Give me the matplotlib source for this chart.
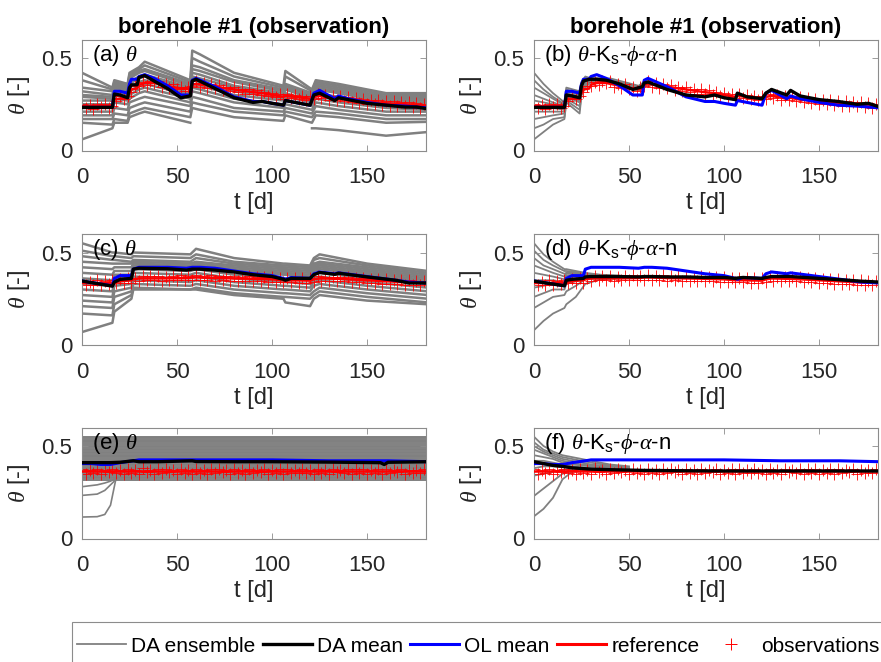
import numpy as np
import matplotlib
matplotlib.use('Agg')
import matplotlib.pyplot as plt
from matplotlib.lines import Line2D
from matplotlib.patches import Rectangle

plt.rcParams['font.family'] = ['Liberation Sans', 'DejaVu Sans']
plt.rcParams['mathtext.fontset'] = 'custom'
plt.rcParams['mathtext.rm'] = 'Liberation Sans'
plt.rcParams['mathtext.it'] = 'Liberation Serif:italic'
plt.rcParams['mathtext.bf'] = 'Liberation Sans:bold'

# ---- row 1 (top): means and reference ----
t1 = [0, 16, 17, 20, 24, 25, 26, 29, 30, 33, 38, 45, 52, 57, 58, 60, 70, 80, 90, 95,
      100, 106, 107, 112, 120, 122, 125, 133, 135, 140, 150, 160, 170, 176, 182]
ref1 = [0.24, 0.24, 0.275, 0.28, 0.285, 0.31, 0.33, 0.335, 0.355, 0.365, 0.365, 0.35,
        0.335, 0.33, 0.355, 0.36, 0.345, 0.33, 0.315, 0.31, 0.30, 0.29, 0.295, 0.29,
        0.28, 0.29, 0.295, 0.28, 0.285, 0.275, 0.265, 0.255, 0.25, 0.245, 0.24]
ol1 = [0.233, 0.233, 0.32, 0.32, 0.31, 0.36, 0.385, 0.385, 0.40, 0.41, 0.39, 0.35,
       0.30, 0.30, 0.38, 0.39, 0.345, 0.29, 0.265, 0.265, 0.255, 0.245, 0.27, 0.26,
       0.245, 0.31, 0.325, 0.28, 0.295, 0.28, 0.26, 0.245, 0.24, 0.235, 0.23]
da_a = [0.233, 0.233, 0.305, 0.30, 0.285, 0.34, 0.355, 0.355, 0.395, 0.405, 0.375, 0.335,
        0.285, 0.295, 0.375, 0.385, 0.335, 0.285, 0.26, 0.265, 0.255, 0.245, 0.27, 0.26,
        0.245, 0.30, 0.31, 0.27, 0.285, 0.275, 0.255, 0.245, 0.235, 0.235, 0.225]
da_b = [0.233, 0.233, 0.30, 0.295, 0.285, 0.35, 0.375, 0.385, 0.385, 0.385, 0.38, 0.36,
        0.33, 0.345, 0.365, 0.37, 0.33, 0.30, 0.29, 0.30, 0.285, 0.275, 0.31, 0.29,
        0.28, 0.31, 0.33, 0.30, 0.325, 0.295, 0.275, 0.265, 0.25, 0.255, 0.235]

# ---- row 2 ----
t2 = [0, 16, 17, 20, 26, 27, 30, 45, 55, 58, 62, 70, 80, 90, 100, 106, 107, 110, 120,
      122, 125, 133, 135, 150, 165, 172, 182]
ref2 = [0.335, 0.335, 0.34, 0.345, 0.35, 0.355, 0.36, 0.36, 0.362, 0.365, 0.365, 0.362,
        0.36, 0.358, 0.355, 0.35, 0.35, 0.35, 0.348, 0.355, 0.36, 0.358, 0.358, 0.35,
        0.342, 0.338, 0.335]
ol2 = [0.346, 0.32, 0.36, 0.375, 0.375, 0.41, 0.42, 0.42, 0.415, 0.42, 0.42, 0.415,
       0.40, 0.385, 0.375, 0.36, 0.355, 0.365, 0.36, 0.385, 0.395, 0.385, 0.39, 0.37,
       0.35, 0.34, 0.335]
da_c = [0.346, 0.318, 0.34, 0.355, 0.36, 0.41, 0.415, 0.412, 0.405, 0.41, 0.41, 0.405,
        0.395, 0.38, 0.37, 0.355, 0.35, 0.36, 0.36, 0.38, 0.392, 0.382, 0.388, 0.368,
        0.35, 0.335, 0.335]
da_d = [0.345, 0.32, 0.35, 0.355, 0.36, 0.368, 0.37, 0.37, 0.368, 0.37, 0.37, 0.368,
        0.368, 0.365, 0.365, 0.36, 0.362, 0.365, 0.36, 0.365, 0.37, 0.37, 0.37, 0.36,
        0.35, 0.345, 0.34]

# ---- row 3 ----
t3 = [0, 5, 10, 15, 20, 27, 30, 40, 58, 60, 80, 100, 130, 157, 159, 161, 182]
ref3 = [0.363] * 17
ol3 = [0.405, 0.405, 0.40, 0.40, 0.41, 0.42, 0.425, 0.425, 0.425, 0.425, 0.425, 0.425,
       0.42, 0.42, 0.42, 0.42, 0.415]
da_e = [0.41, 0.41, 0.41, 0.41, 0.412, 0.42, 0.415, 0.415, 0.42, 0.416, 0.415, 0.415,
        0.413, 0.41, 0.40, 0.412, 0.415]
da_f = [0.415, 0.405, 0.395, 0.39, 0.382, 0.377, 0.375, 0.372, 0.368, 0.368, 0.366,
        0.365, 0.365, 0.365, 0.365, 0.365, 0.365]

# ---- observations (every 2 days) ----
t_obs = np.arange(0, 181, 2)
obs1 = [0.252, 0.230, 0.246, 0.225, 0.254, 0.236, 0.249, 0.228, 0.243, 0.269,
        0.295, 0.276, 0.295, 0.317, 0.346, 0.349, 0.372, 0.352, 0.377, 0.363,
        0.374, 0.345, 0.359, 0.337, 0.357, 0.330, 0.342, 0.321, 0.343, 0.348,
        0.375, 0.345, 0.363, 0.339, 0.360, 0.338, 0.355, 0.326, 0.345, 0.322,
        0.342, 0.318, 0.333, 0.308, 0.331, 0.307, 0.326, 0.300, 0.318, 0.292,
        0.313, 0.289, 0.305, 0.279, 0.307, 0.283, 0.299, 0.276, 0.297, 0.272,
        0.292, 0.281, 0.306, 0.282, 0.302, 0.275, 0.294, 0.271, 0.296, 0.268,
        0.287, 0.262, 0.283, 0.258, 0.280, 0.254, 0.275, 0.250, 0.271, 0.246,
        0.268, 0.243, 0.265, 0.240, 0.263, 0.238, 0.260, 0.236, 0.257, 0.231,
        0.253]
obs2 = [0.347, 0.323, 0.341, 0.326, 0.350, 0.322, 0.344, 0.328, 0.349, 0.333,
        0.357, 0.334, 0.360, 0.337, 0.362, 0.346, 0.373, 0.349, 0.371, 0.350,
        0.374, 0.347, 0.370, 0.352, 0.375, 0.349, 0.377, 0.353, 0.373, 0.352,
        0.377, 0.354, 0.374, 0.350, 0.376, 0.348, 0.371, 0.349, 0.374, 0.347,
        0.372, 0.348, 0.370, 0.345, 0.371, 0.344, 0.369, 0.346, 0.368, 0.342,
        0.367, 0.341, 0.364, 0.338, 0.362, 0.339, 0.363, 0.337, 0.361, 0.336,
        0.360, 0.343, 0.371, 0.347, 0.370, 0.346, 0.369, 0.345, 0.368, 0.344,
        0.366, 0.341, 0.364, 0.338, 0.362, 0.337, 0.359, 0.334, 0.357, 0.332,
        0.355, 0.330, 0.353, 0.329, 0.351, 0.327, 0.349, 0.325, 0.348, 0.324,
        0.346]
obs3 = [0.375, 0.351, 0.370, 0.356, 0.378, 0.349, 0.372, 0.358, 0.377, 0.352,
        0.369, 0.348, 0.376, 0.355, 0.371, 0.350, 0.379, 0.357, 0.368, 0.347,
        0.374, 0.353, 0.377, 0.359, 0.370, 0.349, 0.375, 0.354, 0.372, 0.351,
        0.378, 0.356, 0.369, 0.348, 0.374, 0.352, 0.376, 0.357, 0.371, 0.350,
        0.377, 0.355, 0.370, 0.349, 0.375, 0.353, 0.372, 0.358, 0.378, 0.351,
        0.369, 0.354, 0.376, 0.349, 0.373, 0.356, 0.370, 0.352, 0.377, 0.355,
        0.371, 0.350, 0.378, 0.354, 0.372, 0.349, 0.376, 0.357, 0.370, 0.353,
        0.375, 0.348, 0.373, 0.356, 0.377, 0.351, 0.369, 0.355, 0.374, 0.350,
        0.378, 0.353, 0.371, 0.357, 0.376, 0.349, 0.372, 0.354, 0.370, 0.352,
        0.375]

# ---- ensembles ----
nan = np.nan
ens_a_t = [0, 16, 17, 24, 25, 30, 33, 57, 58, 62, 80, 106, 107, 121, 123, 135, 160, 182]
ens_a = [
    [0.42, 0.34, 0.38, 0.36, 0.42, 0.45, 0.48, 0.38, 0.54, 0.52, 0.42, 0.35, 0.43, 0.33, 0.38, 0.36, 0.31, 0.31],
    [0.38, 0.33, 0.37, 0.35, 0.41, 0.44, 0.46, 0.37, 0.50, 0.48, 0.40, 0.34, 0.40, 0.32, 0.37, 0.35, 0.30, 0.30],
    [0.34, 0.32, 0.36, 0.34, 0.40, 0.43, 0.44, 0.36, 0.46, 0.45, 0.38, 0.33, 0.36, 0.31, 0.36, 0.34, 0.29, 0.29],
    [0.32, 0.30, 0.35, 0.33, 0.39, 0.42, 0.43, 0.35, 0.44, 0.43, 0.37, 0.32, 0.35, 0.30, 0.35, 0.33, 0.28, 0.28],
    [0.30, 0.29, 0.34, 0.32, 0.37, 0.40, 0.41, 0.34, 0.42, 0.41, 0.35, 0.31, 0.34, 0.29, 0.34, 0.32, 0.27, 0.27],
    [0.29, 0.28, 0.33, 0.31, 0.36, 0.39, 0.40, 0.33, 0.40, 0.39, 0.34, 0.30, 0.33, 0.28, 0.33, 0.31, 0.26, 0.26],
    [0.27, 0.27, 0.31, 0.30, 0.34, 0.37, 0.38, 0.31, 0.38, 0.37, 0.32, 0.28, 0.31, 0.27, 0.31, 0.29, 0.25, 0.25],
    [0.25, 0.25, 0.30, 0.28, 0.32, 0.35, 0.36, 0.30, 0.36, 0.35, 0.30, 0.27, 0.29, 0.26, 0.30, 0.28, 0.24, 0.24],
    [0.23, 0.23, 0.28, 0.27, 0.30, 0.33, 0.34, 0.28, 0.34, 0.33, 0.28, 0.25, 0.27, 0.24, 0.28, 0.26, 0.23, 0.22],
    [0.21, 0.21, 0.26, 0.25, 0.28, 0.31, 0.32, 0.26, 0.32, 0.31, 0.26, 0.23, 0.25, 0.22, 0.26, 0.24, 0.21, 0.21],
    [0.19, 0.19, 0.23, 0.22, 0.26, 0.28, 0.29, 0.24, 0.29, 0.28, 0.23, 0.21, 0.23, 0.20, 0.24, 0.22, 0.19, 0.19],
    [0.17, 0.17, 0.20, 0.19, 0.23, 0.25, 0.26, 0.21, 0.26, 0.25, 0.21, 0.19, 0.21, 0.18, 0.21, 0.20, 0.17, 0.17],
    [0.15, 0.14, 0.17, 0.16, 0.20, 0.22, 0.23, 0.18, 0.23, 0.22, 0.18, 0.16, 0.19, 0.15, 0.19, 0.18, 0.15, 0.155],
    [0.06, 0.12, 0.15, 0.15, 0.18, 0.20, 0.21, 0.15, nan, nan, nan, nan, nan, 0.12, 0.12, 0.11, 0.08, 0.10],
]

ens_b_t = [0, 5, 10, 16, 17, 24, 25, 27, 30, 40, 55, 58, 62]
ens_b = [
    [0.42, 0.36, 0.31, 0.26, 0.34, 0.32, 0.37, 0.40, 0.39, 0.39, 0.35, 0.37, 0.38],
    [0.38, 0.33, 0.29, 0.25, 0.33, 0.31, 0.36, 0.39, 0.39, 0.385, 0.345, 0.37, 0.375],
    [0.34, 0.31, 0.28, 0.245, 0.32, 0.30, 0.35, 0.385, 0.385, 0.38, 0.34, 0.365, 0.37],
    [0.30, 0.28, 0.26, 0.24, 0.31, 0.29, 0.35, 0.38, 0.385, 0.38, 0.34, 0.365, 0.37],
    [0.27, 0.26, 0.25, 0.23, 0.30, 0.28, 0.34, 0.38, 0.38, 0.375, 0.335, 0.36, 0.365],
    [0.24, 0.24, 0.23, 0.22, 0.29, 0.27, 0.34, 0.375, 0.38, 0.375, 0.335, 0.36, 0.365],
    [0.21, 0.21, 0.21, 0.21, 0.29, 0.26, 0.33, 0.37, 0.375, 0.37, 0.33, 0.355, 0.36],
    [0.17, 0.18, 0.19, 0.20, 0.28, 0.24, 0.32, 0.36, 0.375, 0.37, 0.33, 0.355, 0.36],
    [0.12, 0.14, 0.17, 0.18, 0.27, 0.22, 0.31, 0.35, 0.37, 0.365, 0.325, 0.35, 0.36],
    [0.06, 0.10, 0.14, 0.17, 0.26, 0.20, 0.30, 0.34, 0.37, 0.365, 0.325, 0.35, 0.355],
]

ens_c_t = [0, 16, 17, 26, 27, 57, 60, 80, 106, 107, 120, 122, 125, 150, 182]
ens_c = [
    [0.55, 0.50, 0.50, 0.49, 0.50, 0.49, 0.52, 0.47, 0.44, 0.44, 0.43, 0.47, 0.49, 0.44, 0.40],
    [0.51, 0.48, 0.48, 0.47, 0.48, 0.47, 0.49, 0.45, 0.43, 0.43, 0.42, 0.46, 0.47, 0.43, 0.39],
    [0.48, 0.46, 0.46, 0.45, 0.46, 0.45, 0.47, 0.44, 0.42, 0.42, 0.41, 0.44, 0.45, 0.42, 0.38],
    [0.45, 0.44, 0.44, 0.44, 0.45, 0.44, 0.45, 0.43, 0.41, 0.41, 0.40, 0.43, 0.44, 0.41, 0.37],
    [0.42, 0.41, 0.42, 0.42, 0.44, 0.43, 0.44, 0.42, 0.40, 0.40, 0.39, 0.42, 0.43, 0.40, 0.36],
    [0.39, 0.38, 0.40, 0.40, 0.43, 0.42, 0.43, 0.41, 0.39, 0.39, 0.38, 0.41, 0.42, 0.39, 0.35],
    [0.36, 0.35, 0.38, 0.38, 0.42, 0.41, 0.42, 0.40, 0.38, 0.38, 0.37, 0.40, 0.41, 0.38, 0.34],
    [0.33, 0.32, 0.36, 0.37, 0.41, 0.40, 0.41, 0.38, 0.36, 0.36, 0.35, 0.38, 0.39, 0.36, 0.33],
    [0.30, 0.29, 0.34, 0.35, 0.39, 0.38, 0.39, 0.36, 0.34, 0.34, 0.33, 0.36, 0.37, 0.34, 0.31],
    [0.27, 0.26, 0.32, 0.33, 0.37, 0.36, 0.37, 0.34, 0.32, 0.32, 0.31, 0.34, 0.35, 0.32, 0.29],
    [0.24, 0.23, 0.29, 0.31, 0.35, 0.34, 0.35, 0.32, 0.30, 0.30, 0.29, 0.32, 0.33, 0.30, 0.27],
    [0.21, 0.20, 0.26, 0.29, 0.33, 0.32, 0.33, 0.30, 0.28, 0.28, 0.27, 0.29, 0.31, 0.28, 0.25],
    [0.17, 0.16, 0.22, 0.27, 0.31, 0.30, 0.31, 0.28, 0.26, 0.26, 0.25, 0.27, 0.29, 0.26, 0.23],
    [0.07, 0.12, 0.18, 0.25, 0.30, 0.30, 0.30, 0.27, 0.25, 0.23, 0.21, 0.25, 0.27, 0.24, 0.22],
]

ens_d_t = [0, 5, 10, 16, 17, 22, 27, 35, 45]
ens_d = [
    [0.55, 0.49, 0.45, 0.41, 0.41, 0.40, 0.39, 0.38, 0.375],
    [0.51, 0.46, 0.43, 0.40, 0.40, 0.395, 0.385, 0.378, 0.372],
    [0.47, 0.43, 0.41, 0.385, 0.39, 0.39, 0.38, 0.375, 0.37],
    [0.43, 0.41, 0.39, 0.37, 0.385, 0.385, 0.378, 0.372, 0.37],
    [0.39, 0.38, 0.37, 0.355, 0.375, 0.38, 0.375, 0.37, 0.368],
    [0.35, 0.35, 0.35, 0.34, 0.365, 0.37, 0.372, 0.368, 0.367],
    [0.31, 0.32, 0.33, 0.32, 0.35, 0.36, 0.37, 0.366, 0.366],
    [0.26, 0.28, 0.30, 0.30, 0.33, 0.345, 0.365, 0.365, 0.365],
    [0.20, 0.23, 0.26, 0.27, 0.29, 0.32, 0.355, 0.36, 0.363],
    [0.08, 0.13, 0.17, 0.20, 0.22, 0.26, 0.33, 0.355, 0.36],
]

# panel (e): members stay at constant levels, a few dry ones wet up early
ens_e_levels = [0.550, 0.543, 0.535, 0.527, 0.519, 0.510, 0.502, 0.494, 0.486, 0.478,
                0.470, 0.462, 0.454, 0.446, 0.438, 0.430, 0.421, 0.413, 0.405, 0.397,
                0.389, 0.381, 0.373, 0.365, 0.357, 0.349, 0.341, 0.333, 0.325, 0.317]
ens_e_t = [0, 8, 12, 15, 17, 18]
ens_e_low = [
    [0.116, 0.118, 0.13, 0.18, 0.28, 0.33],
    [0.233, 0.24, 0.26, 0.29, 0.31, 0.32],
    [0.28, 0.29, 0.30, 0.31, 0.32, 0.325],
]

ens_f_t = [0, 5, 10, 15, 20, 25, 30, 40, 50]
ens_f = [
    [0.55, 0.50, 0.47, 0.45, 0.44, 0.43, 0.42, 0.40, 0.39],
    [0.52, 0.48, 0.46, 0.44, 0.43, 0.42, 0.41, 0.395, 0.385],
    [0.50, 0.47, 0.45, 0.43, 0.42, 0.41, 0.40, 0.39, 0.38],
    [0.48, 0.46, 0.44, 0.42, 0.41, 0.40, 0.395, 0.385, 0.378],
    [0.45, 0.44, 0.43, 0.41, 0.40, 0.395, 0.39, 0.38, 0.375],
    [0.42, 0.42, 0.41, 0.40, 0.39, 0.385, 0.38, 0.375, 0.372],
    [0.38, 0.39, 0.39, 0.385, 0.38, 0.378, 0.375, 0.372, 0.37],
    [0.34, 0.35, 0.36, 0.37, 0.372, 0.372, 0.37, 0.37, 0.368],
    [0.23, 0.27, 0.31, 0.35, 0.365, 0.368, 0.368, 0.368, 0.367],
    [0.12, 0.16, 0.22, 0.32, 0.36, 0.365, 0.366, 0.366, 0.366],
]

labels = [r'(a) $\theta$', r'(b) $\theta$-K$_{\mathrm{s}}$-$\phi$-$\alpha$-n',
          r'(c) $\theta$', r'(d) $\theta$-K$_{\mathrm{s}}$-$\phi$-$\alpha$-n',
          r'(e) $\theta$', r'(f) $\theta$-K$_{\mathrm{s}}$-$\phi$-$\alpha$-n']

GRAY = '#808080'
SPINE = '#8c8c8c'
W, H = 881, 662

fig = plt.figure(figsize=(W / 100, H / 100), dpi=100)

lefts = [82, 534]
bottoms = [150.5, 345, 538.5]
axes = []
for r in range(3):
    for c in range(2):
        ax = fig.add_axes([lefts[c] / W, 1 - bottoms[r] / H, 344 / W, 111 / H])
        axes.append(ax)

ens_sets = [(ens_a_t, ens_a), (ens_b_t, ens_b), (ens_c_t, ens_c),
            (ens_d_t, ens_d), None, (ens_f_t, ens_f)]
rows = [(t1, ref1, ol1, obs1), (t2, ref2, ol2, obs2), (t3, ref3, ol3, obs3)]
da_list = [da_a, da_b, da_c, da_d, da_e, da_f]

for i, ax in enumerate(axes):
    t, ref, ol, obs = rows[i // 2]
    # ensemble members
    if i == 4:
        for lev in ens_e_levels:
            ax.plot([0, 182], [lev, lev], color=GRAY, lw=1.4, zorder=1)
        for m in ens_e_low:
            ax.plot(ens_e_t, m, color=GRAY, lw=1.2, zorder=1)
    else:
        et, members = ens_sets[i]
        for m in members:
            ax.plot(et, m, color=GRAY, lw=1.8 if i in (0, 2) else 1.3, zorder=1)
    ax.plot(t_obs, obs, ls='none', marker='+', ms=9, mew=0.6, color='red', zorder=2)
    ax.plot(t, ref, color='red', lw=1.8, zorder=3)
    ax.plot(t, ol, color='blue', lw=2.2, zorder=4)
    ax.plot(t, da_list[i], color='black', lw=2.4, zorder=5)

    ax.set_xlim(0, 181)
    ax.set_ylim(0, 0.6)
    ax.set_xticks([0, 50, 100, 150])
    ax.set_yticks([0, 0.5])
    ax.set_yticklabels(['0', '0.5'])
    ax.tick_params(direction='in', top=True, right=True, length=4, width=0.6,
                   color=SPINE, labelcolor='#262626', labelsize=16)
    ax.tick_params(axis='x', pad=12)
    ax.tick_params(axis='y', pad=7)
    for s in ax.spines.values():
        s.set_color(SPINE)
        s.set_linewidth(0.8)
    ax.set_xlabel('t [d]', fontsize=17, color='#262626', labelpad=3)
    ax.set_ylabel(r'$\theta$ [-]', fontsize=17, color='#262626', labelpad=7)
    ax.text(0.03, 0.86, labels[i], transform=ax.transAxes, fontsize=16,
            ha='left', va='center', color='black', zorder=6)
    if i < 2:
        ax.set_title('borehole #1 (observation)', fontsize=16, fontweight='bold', pad=5)

# legend box runs off the right and bottom edges of the figure
fig.patches.append(Rectangle((72 / W, -0.1), 1.0, (H - 622) / H + 0.1,
                             transform=fig.transFigure, fill=False,
                             edgecolor=SPINE, lw=0.8))

handles = [
    Line2D([], [], color=GRAY, lw=1.3),
    Line2D([], [], color='black', lw=2.4),
    Line2D([], [], color='blue', lw=2.2),
    Line2D([], [], color='red', lw=2.2),
    Line2D([], [], ls='none', marker='+', ms=8, mew=0.7, color='red'),
]
names = ['DA ensemble', 'DA mean', 'OL mean', 'reference', 'observations']
fig.legend(handles, names, loc='center left', bbox_to_anchor=(77 / W, 1 - 646 / H),
           bbox_transform=fig.transFigure, ncol=5, fontsize=15, frameon=False,
           borderaxespad=0, borderpad=0, handlelength=2.35,
           handletextpad=0.25, columnspacing=0.35)

fig.savefig('out.png', dpi=100)
